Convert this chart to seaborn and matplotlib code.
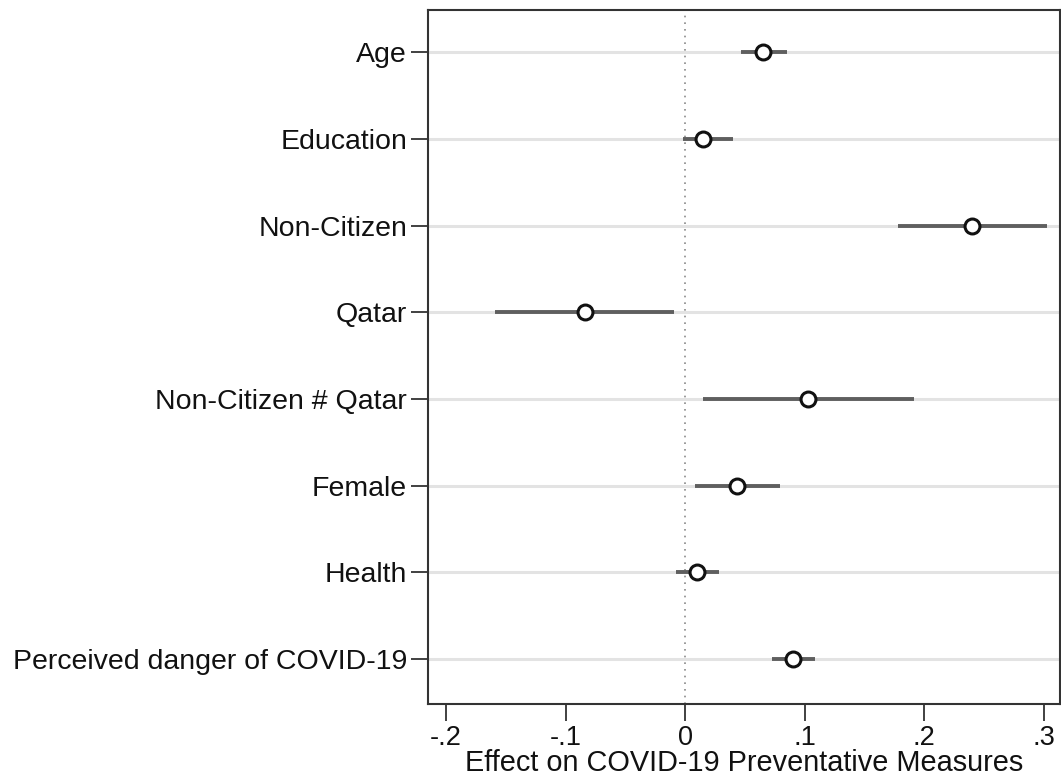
import matplotlib
matplotlib.use("Agg")
import matplotlib.pyplot as plt
import seaborn as sns
import pandas as pd

labels = ["Age", "Education", "Non-Citizen", "Qatar", "Non-Citizen # Qatar",
          "Female", "Health", "Perceived danger of COVID-19"]
coef = [0.065, 0.015, 0.240, -0.084, 0.103, 0.043, 0.010, 0.090]
ci_low = [0.047, -0.002, 0.178, -0.159, 0.015, 0.008, -0.008, 0.073]
ci_high = [0.085, 0.040, 0.303, -0.009, 0.191, 0.079, 0.028, 0.109]
xticks = [-0.2, -0.1, 0, 0.1, 0.2, 0.3]
xticklabels = ["-.2", "-.1", "0", ".1", ".2", ".3"]

df = pd.DataFrame({"label": labels, "coef": coef, "lo": ci_low, "hi": ci_high})

sns.set_theme(style="white")
plt.rcParams['font.family'] = ['Liberation Sans', 'DejaVu Sans']

fig = plt.figure(figsize=(10.61, 7.78), dpi=100)
ax = fig.add_axes([428/1061, 1-704/778, (1060-428)/1061, (704-10)/778])

ypos = list(range(len(labels)))
for y in ypos:
    ax.axhline(y, color="#e3e3e3", lw=2.2, zorder=0)
ax.axvline(0, color="#8a8a8a", lw=1.2, ls=(0, (1, 3)), zorder=1)
ax.hlines(ypos, df["lo"], df["hi"], color="#5f5f5f", lw=2.8, zorder=2)
sns.scatterplot(data=df, x="coef", y="label", ax=ax, s=115, marker="o",
                facecolor="white", edgecolor="#111111", linewidth=2.2, zorder=3)

ax.set_xlim(-0.215, 0.3135)
ax.set_ylim(7.52, -0.49)
ax.set_xticks(xticks)
ax.set_xticklabels(xticklabels)
ax.set_yticks(ypos)
ax.set_yticklabels(labels)
ax.set_xlabel("Effect on COVID-19 Preventative Measures", fontsize=20.8, labelpad=-1.5, color="#111111")
ax.set_ylabel("")
ax.tick_params(axis="both", which="major", length=12, width=1.3, color="#333333",
               labelcolor="#111111", direction="out")
ax.tick_params(axis="y", labelsize=20.5, pad=3)
ax.tick_params(axis="x", labelsize=19.5, pad=3.4)
ax.tick_params(left=True, bottom=True)
for s in ax.spines.values():
    s.set_color("#333333")
    s.set_linewidth(1.5)

fig.savefig("out.png", dpi=100)
